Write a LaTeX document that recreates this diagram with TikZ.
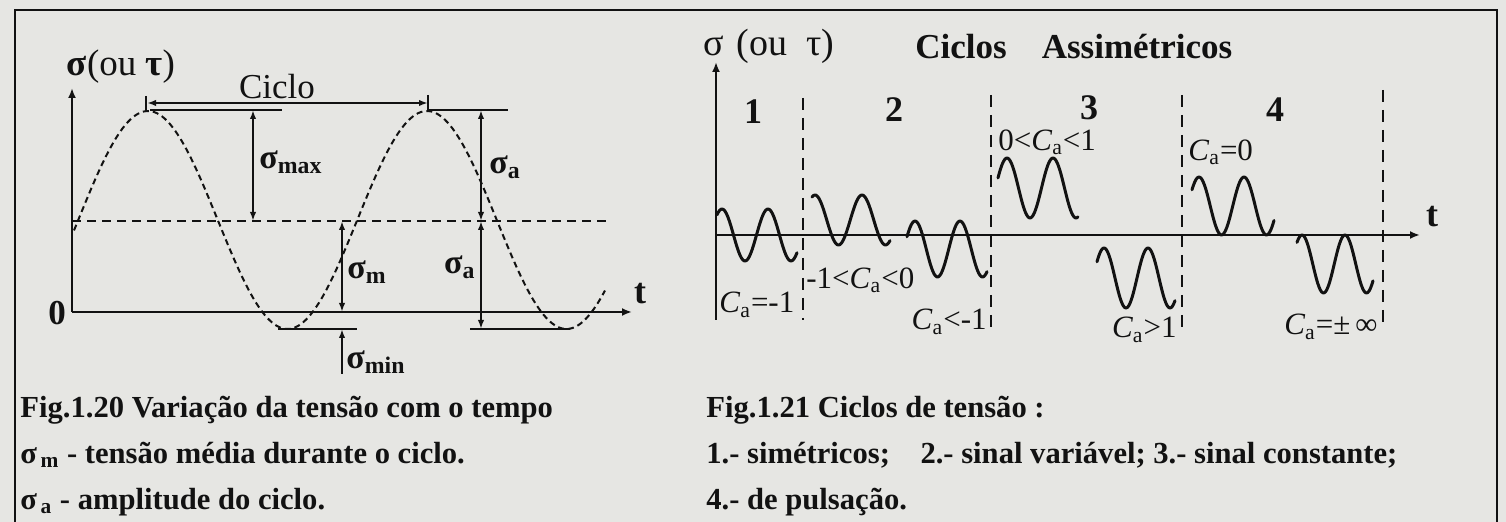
\documentclass[tikz,border=0pt]{standalone}
\usepackage{fontspec}
\setmainfont{Liberation Serif}
\usetikzlibrary{arrows.meta}
\definecolor{bgc}{RGB}{230,230,227}
\definecolor{ink}{RGB}{18,18,18}
\newcommand\sgl[1]{\textbf{σ}\textsubscript{\textbf{#1}}}
\newcommand\Csub{\textit{C}\textsubscript{a}}
\newcommand\fs[1]{\fontsize{#1}{#1}\selectfont}
\begin{document}
\begin{tikzpicture}[x=0.5pt,y={(0pt,-0.5pt)},
  ink, draw=ink,
  axisln/.style={line width=1.1pt,-{Latex[length=5pt,width=4pt]}},
  dimarr/.style={line width=0.9pt,{Latex[length=4.5pt,width=3.2pt]}-{Latex[length=4.5pt,width=3.2pt]}},
  onearr/.style={line width=0.9pt,-{Latex[length=4.5pt,width=3.2pt]}},
  thinln/.style={line width=0.9pt},
  sinedash/.style={line width=1pt,dash pattern=on 3pt off 2pt},
  meandash/.style={line width=0.9pt,dash pattern=on 4.5pt off 3pt},
  wave/.style={line width=1.5pt,line join=round,line cap=round},
  sepline/.style={line width=0.9pt,dash pattern=on 6pt off 4pt},
  captxt/.style={anchor=west,inner sep=0pt,font=\fs{15.3}\bfseries},
  lbl/.style={inner sep=0pt,font=\fs{17}},
  clbl/.style={inner sep=0pt,font=\fs{15.5}},
  numlbl/.style={inner sep=0pt,font=\fs{18}\bfseries}]
\fill[bgc] (0,0) rectangle (1506,522);
\useasboundingbox (0,0) rectangle (1506,522);
% frame
\draw[line width=1pt] (15,522) -- (15,10) -- (1497,10) -- (1497,522);

% ================= left chart =================
\coordinate (lo) at (72,312);
\coordinate (ltop) at (72,88);
\coordinate (lend) at (632,312);
\draw[axisln] (lo) -- (ltop);
\draw[axisln] (lo) -- (lend);
\node[inner sep=0pt,font=\fs{17.5}\bfseries] (zero) at (57,313) {0};
\node[inner sep=0pt,font=\fs{18}\bfseries] (lt) at (640,294) {t};
\node[inner sep=0pt,font=\fs{18.5}] (lsig) at (121,67) {\textbf{σ}(ou \textbf{τ})};
\node[inner sep=0pt,font=\fs{17.5}] (ciclo) at (277,87) {Ciclo};

% mean line and sine
\coordinate (m0) at (72,221);
\coordinate (m1) at (607,221);
\draw[meandash] (m0) -- (m1);
\draw[sinedash] plot[domain=74:605,samples=200,smooth] (\x,{220-109*cos((\x-148)*1.29032)});

% cycle dimension
\coordinate (tk1a) at (146,96); \coordinate (tk1b) at (146,110);
\coordinate (tk2a) at (428,95); \coordinate (tk2b) at (428,110);
\draw[thinln] (tk1a) -- (tk1b);
\draw[thinln] (tk2a) -- (tk2b);
\coordinate (cy1) at (147,103); \coordinate (cy2) at (428,103);
\draw[dimarr] (cy1) -- (cy2);
% peak lines
\coordinate (p1a) at (150,110); \coordinate (p1b) at (282,110);
\coordinate (p2a) at (428,110); \coordinate (p2b) at (508,110);
\draw[thinln] (p1a) -- (p1b);
\draw[thinln] (p2a) -- (p2b);
% min lines
\coordinate (n1a) at (278,329); \coordinate (n1b) at (357,329);
\coordinate (n2a) at (470,329); \coordinate (n2b) at (570,329);
\draw[thinln] (n1a) -- (n1b);
\draw[thinln] (n2a) -- (n2b);
% sigma max
\coordinate (smx1) at (253,110); \coordinate (smx2) at (253,221);
\draw[dimarr] (smx1) -- (smx2);
\node[lbl,anchor=west] (smax) at (259,162) {\sgl{max}};
% sigma a
\coordinate (sa1) at (481,110); \coordinate (sa2) at (481,221); \coordinate (sa3) at (481,329);
\draw[dimarr] (sa1) -- (sa2);
\draw[dimarr] (sa2) -- (sa3);
\node[lbl,anchor=west] (sau) at (489,167) {\sgl{a}};
\node[lbl,anchor=east] (sal) at (476,267) {\sgl{a}};
% sigma m
\coordinate (sm1) at (342,221); \coordinate (sm2) at (342,312);
\draw[dimarr] (sm1) -- (sm2);
\node[lbl,anchor=west] (sml) at (347,272) {\sgl{m}};
% sigma min
\coordinate (sn1) at (342,374); \coordinate (sn2) at (342,329);
\draw[onearr] (sn1) -- (sn2);
\node[lbl,anchor=west] (snl) at (346,362) {\sgl{min}};

% ================= right chart =================
\coordinate (ro) at (716,235);
\coordinate (rbot) at (716,320);
\coordinate (rtop) at (716,62);
\coordinate (rend) at (1420,235);
\draw[axisln] (rbot) -- (rtop);
\draw[axisln] (ro) -- (rend);
\node[inner sep=0pt,font=\fs{18}\bfseries] (rt) at (1432,217) {t};
\node[inner sep=0pt,font=\fs{19},anchor=west] (rsig) at (703,46) {σ\,\,(ou\ \ τ)};
\node[inner sep=0pt,font=\fs{17.5}\bfseries,anchor=west] (rtitle) at (915,47) {Ciclos\quad Assimétricos};

\coordinate (d1t) at (803,98);  \coordinate (d1b) at (803,320);
\coordinate (d2t) at (991,95);  \coordinate (d2b) at (991,327);
\coordinate (d3t) at (1182,95); \coordinate (d3b) at (1182,327);
\coordinate (d4t) at (1383,90); \coordinate (d4b) at (1383,327);
\draw[sepline] (d1t) -- (d1b);
\draw[sepline] (d2t) -- (d2b);
\draw[sepline] (d3t) -- (d3b);
\draw[sepline] (d4t) -- (d4b);

\node[numlbl] (n1) at (753,112) {1};
\node[numlbl] (n2) at (894,110) {2};
\node[numlbl] (n3) at (1089,108) {3};
\node[numlbl] (n4) at (1275,110) {4};

% waves
\draw[wave] plot[domain=717:797,samples=60,smooth] (\x,{235-26*cos((\x-722)*7.82609)});
\draw[wave] plot[domain=812:890,samples=60,smooth] (\x,{220-25*cos((\x-815)*7.65957)});
\draw[wave] plot[domain=907:987,samples=60,smooth] (\x,{249-28*cos((\x-915)*8)});
\draw[wave] plot[domain=998:1078,samples=60,smooth] (\x,{188-30*cos((\x-1007)*7.82609)});
\draw[wave] plot[domain=1097:1175,samples=60,smooth] (\x,{278-30*cos((\x-1104)*8.18182)});
\draw[wave] plot[domain=1192:1274,samples=60,smooth] (\x,{206-29*cos((\x-1199)*8)});
\draw[wave] plot[domain=1297:1373,samples=60,smooth] (\x,{264-29*cos((\x-1302)*8.37209)});

% wave labels
\node[clbl,anchor=west] (c01) at (998,142) {0<\Csub<1};
\node[clbl,anchor=west] (c0) at (1188,152) {\Csub=0};
\node[clbl,anchor=west] (cm1) at (719,305) {\Csub=-1};
\node[clbl,anchor=west] (cm10) at (806,280) {-1<\Csub<0};
\node[clbl,anchor=east] (clm1) at (987,322) {\Csub<-1};
\node[clbl,anchor=east] (cg1) at (1177,330) {\Csub>1};
\node[clbl,anchor=east] (cinf) at (1378,327) {\Csub=±\,∞};

% ================= captions =================
\node[captxt] (cap1) at (20,410) {Fig.1.20 Variação da tensão com o tempo};
\node[captxt] (cap2) at (20,455) {σ\textsubscript{\,m} - tensão média durante o ciclo.};
\node[captxt] (cap3) at (20,502) {σ\textsubscript{\,a} - amplitude do ciclo.};
\node[captxt] (cap4) at (706,410) {Fig.1.21 Ciclos de tensão :};
\node[captxt] (cap5) at (706,455) {1.- simétricos;\quad 2.- sinal variável; 3.- sinal constante;};
\node[captxt] (cap6) at (706,502) {4.- de pulsação.};
\end{tikzpicture}
\end{document}
